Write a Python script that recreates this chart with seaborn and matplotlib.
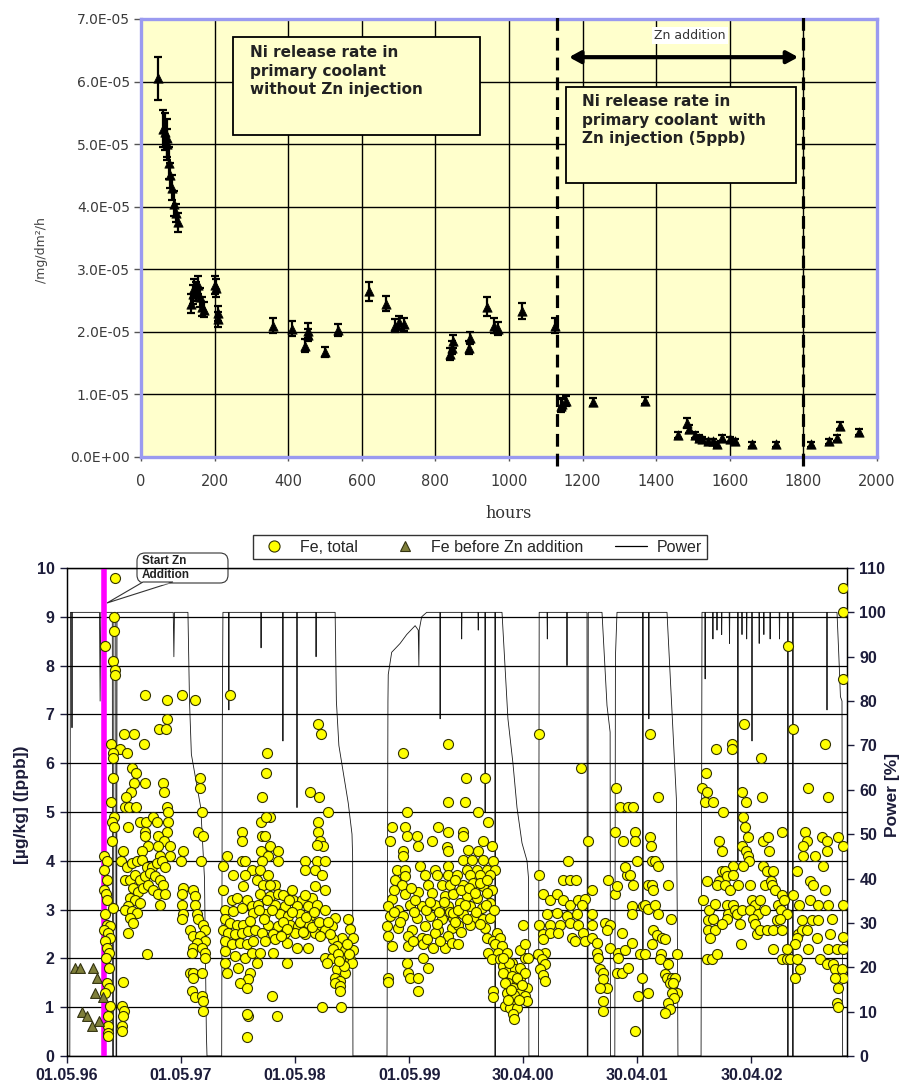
import numpy as np
import pandas as pd
import matplotlib
matplotlib.use("Agg")
import matplotlib.pyplot as plt
import seaborn as sns
from matplotlib.patches import Rectangle, FancyBboxPatch, Polygon
from matplotlib.lines import Line2D
from matplotlib.ticker import FuncFormatter, MultipleLocator
from matplotlib.transforms import IdentityTransform

# ---------------- top chart data (Ni release rate, x1e-5 mg/dm2/h) ----------------
hours = [45, 60, 65, 70, 72, 75, 80, 85, 90, 95, 100,
         135, 140, 145, 150, 155, 160, 165, 170, 200, 205, 208, 210,
         360, 410, 445, 455, 455, 500, 535, 620, 665, 690, 700, 715,
         840, 845, 848, 890, 895, 940, 960, 970, 1035, 1125,
         1140, 1145, 1155, 1228, 1370,
         1460, 1485, 1490, 1505, 1515, 1525, 1540, 1555, 1565, 1580, 1600, 1615,
         1660, 1725, 1820, 1870, 1890, 1900, 1950]
ni_rate = [6.05, 5.25, 5.2, 5.1, 5.0, 4.7, 4.5, 4.3, 4.05, 3.9, 3.75,
           2.45, 2.6, 2.7, 2.65, 2.75, 2.55, 2.4, 2.35, 2.75, 2.7, 2.3, 2.2,
           2.1, 2.05, 1.78, 1.95, 2.02, 1.68, 2.03, 2.65, 2.45, 2.1, 2.15, 2.12,
           1.65, 1.75, 1.85, 1.75, 1.9, 2.4, 2.1, 2.05, 2.33, 2.1,
           0.82, 0.85, 0.9, 0.88, 0.9,
           0.35, 0.55, 0.45, 0.35, 0.3, 0.28, 0.25, 0.25, 0.2, 0.3, 0.28, 0.25,
           0.2, 0.2, 0.2, 0.25, 0.3, 0.5, 0.4]
ni_err = [0.35, 0.3, 0.3, 0.3, 0.25, 0.25, 0.2, 0.2, 0.2, 0.15, 0.15,
          0.15, 0.15, 0.15, 0.15, 0.15, 0.15, 0.15, 0.12, 0.15, 0.15, 0.12, 0.12,
          0.12, 0.12, 0.1, 0.1, 0.12, 0.08, 0.1, 0.15, 0.12, 0.1, 0.1, 0.1,
          0.1, 0.1, 0.1, 0.1, 0.1, 0.15, 0.12, 0.1, 0.13, 0.12,
          0.1, 0.1, 0.08, 0.06, 0.06,
          0.05, 0.08, 0.06, 0.05, 0.05, 0.04, 0.04, 0.04, 0.04, 0.05, 0.04, 0.04,
          0.04, 0.04, 0.04, 0.04, 0.05, 0.06, 0.05]
zn_start_h = 1130
zn_end_h = 1800
top_xticks = [0, 200, 400, 600, 800, 1000, 1200, 1400, 1600, 1800, 2000]

# ---------------- bottom chart data ----------------
start_date = "01.05.96"
date_tick_labels = ["01.05.96", "01.05.97", "01.05.98", "01.05.99", "30.04.00", "30.04.01", "30.04.02"]
zn_start_day = 119  # days after 01.05.96

# Fe before Zn addition (day, ppb)
fe_before = [(26, 1.8), (43, 1.8), (84, 1.8), (97, 1.6), (90, 1.3), (114, 1.2),
             (47, 0.9), (63, 0.82), (79, 0.62), (103, 0.72)]

# Fe, total (day, ppb)
fe_total = [
    (154, 9.8), (151, 9.0), (150, 8.7), (122, 8.4), (148, 8.1), (153, 7.9), (154, 7.8),
    (251, 7.4), (319, 7.3), (368, 7.4), (410, 7.3), (520, 7.4), (321, 6.9), (294, 6.7), (317, 6.7),
    (182, 6.6), (214, 6.6), (246, 6.4), (141, 6.4), (168, 6.3), (146, 6.2), (148, 6.1), (193, 6.2),
    (207, 5.9), (221, 5.8), (148, 5.7), (249, 5.6), (308, 5.6), (214, 5.6), (310, 5.4), (205, 5.4),
    (189, 5.3), (141, 5.2), (186, 5.1), (199, 5.1), (221, 5.1), (321, 5.1), (324, 5.0), (426, 5.7),
    (426, 5.5), (431, 5.0),
    (151, 4.9), (143, 4.8), (151, 4.7), (196, 4.7), (234, 4.8), (253, 4.8), (276, 4.9), (287, 4.8),
    (324, 4.8), (319, 4.6), (250, 4.6), (420, 4.6), (434, 4.5), (143, 4.4), (250, 4.5), (292, 4.5),
    (310, 4.4), (260, 4.3), (290, 4.3), (328, 4.3), (372, 4.2), (180, 4.2), (239, 4.2), (119, 4.1),
    (127, 4.0), (172, 4.0), (298, 4.1), (330, 4.1), (365, 4.0), (428, 4.0),
    (191, 3.88), (207, 3.95), (223, 3.99), (239, 4.02), (255, 3.88), (271, 3.88), (287, 3.95),
    (303, 3.99), (314, 3.88), (186, 3.61), (202, 3.61), (218, 3.71), (234, 3.61), (250, 3.68),
    (266, 3.75), (282, 3.68), (298, 3.61), (308, 3.51), (212, 3.44), (228, 3.37), (244, 3.44),
    (260, 3.51), (276, 3.41), (292, 3.31), (314, 3.31), (202, 3.24), (218, 3.2), (234, 3.14),
    (196, 3.07), (186, 3.0), (207, 2.97), (223, 2.93), (298, 3.1), (202, 2.83), (212, 2.73),
    (196, 2.52), (255, 2.1),
    (119, 3.82), (127, 3.61), (119, 3.41), (125, 3.31), (127, 3.2), (122, 2.9), (127, 2.69),
    (138, 2.66), (119, 2.59), (132, 2.52), (138, 2.42), (122, 2.35), (127, 2.22), (135, 2.12),
    (125, 2.01), (135, 1.81), (146, 3.03), (127, 1.5), (135, 1.4), (122, 1.3), (138, 1.03),
    (132, 0.82), (132, 0.62), (132, 0.48), (132, 0.41), (178, 1.52), (177, 1.03), (182, 0.93),
    (180, 0.82), (175, 0.62), (175, 0.52),
    (372, 3.44), (367, 3.31), (402, 3.41), (410, 3.27), (410, 3.1), (367, 3.1), (372, 2.9),
    (367, 2.8), (415, 2.9), (420, 2.8), (436, 2.69), (394, 2.59), (442, 2.59), (404, 2.46),
    (426, 2.46), (442, 2.35), (415, 2.32), (402, 2.22), (431, 2.22), (442, 2.12), (399, 2.12),
    (442, 2.01), (394, 1.71), (404, 1.71), (431, 1.71), (404, 1.6), (399, 1.33), (410, 1.2),
    (431, 1.23), (436, 1.13), (434, 0.92),
    (511, 4.1), (500, 3.9), (532, 3.71), (500, 3.41), (559, 4.6), (559, 4.4), (559, 4.0),
    (570, 4.0), (591, 3.82), (570, 3.71), (564, 3.48), (527, 3.2), (543, 3.24), (575, 3.2),
    (591, 3.07), (506, 3.0), (532, 2.97), (559, 3.03), (596, 2.93), (506, 2.8), (522, 2.73),
    (543, 2.69), (564, 2.69), (586, 2.76), (500, 2.59), (516, 2.52), (538, 2.49), (559, 2.52),
    (580, 2.56), (602, 2.59), (506, 2.35), (527, 2.29), (554, 2.32), (575, 2.29), (596, 2.35),
    (506, 2.15), (538, 2.05), (570, 2.01), (591, 2.12), (506, 1.91), (511, 1.71), (548, 1.81),
    (586, 1.71), (580, 1.57), (554, 1.5), (575, 1.4), (580, 0.82), (575, 0.86), (575, 0.38),
    (804, 6.8), (812, 6.6), (639, 6.2), (636, 5.8), (623, 5.3), (778, 5.4), (807, 5.3), (836, 5.0),
    (620, 4.8), (650, 4.9), (637, 4.9), (804, 4.8), (804, 4.6), (810, 4.4), (820, 4.3), (799, 4.33),
    (623, 4.5), (634, 4.5), (621, 4.2), (650, 4.3), (676, 4.2), (644, 4.1), (623, 4.0), (676, 4.0),
    (762, 4.0), (799, 4.0), (826, 4.0), (762, 3.82), (794, 3.82), (815, 3.71), (618, 3.82),
    (644, 3.71), (607, 3.61), (628, 3.51), (666, 3.51), (719, 3.41), (794, 3.48), (826, 3.41),
    (618, 3.31), (650, 3.27), (676, 3.31), (724, 3.2), (751, 3.2), (783, 3.24), (612, 3.1),
    (666, 3.1), (698, 3.07), (735, 3.07), (772, 3.07), (799, 3.1), (826, 3.0), (634, 2.9),
    (682, 2.9), (708, 2.87), (746, 2.9), (778, 2.87), (858, 2.83), (898, 2.81), (644, 2.69),
    (676, 2.66), (714, 2.69), (740, 2.66), (772, 2.73), (815, 2.63), (847, 2.66), (906, 2.61),
    (623, 2.52), (660, 2.49), (698, 2.52), (730, 2.52), (762, 2.49), (794, 2.52), (826, 2.59),
    (879, 2.42), (916, 2.42), (634, 2.35), (666, 2.39), (703, 2.32), (735, 2.22), (772, 2.22),
    (852, 2.39), (863, 2.25), (890, 2.18), (916, 2.18), (618, 2.12), (660, 2.12), (826, 2.01),
    (847, 2.01), (879, 2.01), (906, 1.98), (607, 1.91), (703, 1.91), (831, 1.91), (911, 1.91),
    (863, 1.78), (890, 1.71), (858, 1.6), (874, 1.54), (858, 1.5), (874, 1.44), (874, 1.33),
    (655, 1.22), (671, 0.81), (815, 1.01), (877, 1.01),
    (615, 3.0), (630, 2.8), (640, 3.2), (655, 3.0), (690, 2.75), (705, 2.6), (720, 2.95),
    (745, 2.75), (755, 2.55), (765, 2.85), (785, 2.65), (790, 2.95), (805, 2.75), (810, 2.45),
    (835, 2.75), (840, 2.5), (850, 2.2), (868, 2.1), (885, 1.85), (895, 2.3), (902, 2.1),
    (870, 1.95), (650, 3.5), (690, 3.3), (710, 3.2), (760, 3.3), (685, 2.45),
    (1076, 6.2), (1220, 6.4), (1220, 5.2), (1087, 5.0), (1039, 4.7), (1082, 4.7), (1034, 4.41),
    (1087, 4.5), (1119, 4.5), (1124, 4.31), (1076, 4.2), (1076, 4.1), (1188, 4.7), (1218, 4.6),
    (1169, 4.41), (1215, 4.29), (1220, 4.2), (1055, 3.82), (1082, 3.82), (1130, 3.9), (1178, 3.82),
    (1220, 3.9), (1050, 3.61), (1082, 3.68), (1146, 3.71), (1183, 3.71), (1220, 3.71), (1071, 3.51),
    (1156, 3.51), (1199, 3.51), (1039, 3.22), (1082, 3.31), (1124, 3.37), (1167, 3.34), (1210, 3.27),
    (1236, 3.34), (1028, 3.07), (1060, 3.0), (1098, 3.1), (1135, 3.07), (1178, 3.1), (1220, 3.07),
    (1034, 2.87), (1076, 2.87), (1119, 2.83), (1162, 2.87), (1199, 2.8), (1236, 2.83), (1023, 2.66),
    (1060, 2.63), (1103, 2.59), (1146, 2.66), (1188, 2.59), (1231, 2.63), (1028, 2.46), (1092, 2.46),
    (1135, 2.42), (1178, 2.52), (1220, 2.46), (1039, 2.25), (1092, 2.25), (1140, 2.29), (1172, 2.22),
    (1210, 2.22), (1231, 2.32), (1087, 1.91), (1140, 2.01), (1156, 1.81), (1092, 1.71), (1098, 1.6),
    (1124, 1.6), (1124, 1.33), (1028, 1.6), (1026, 1.52),
    (1045, 2.95), (1065, 2.75), (1110, 2.95), (1150, 3.0), (1190, 2.95), (1205, 3.15), (1115, 3.2),
    (1160, 3.15), (1045, 3.4), (1100, 3.45), (1185, 2.7), (1225, 2.95), (1108, 2.35), (1152, 2.4),
    (1195, 2.35),
    (1510, 6.6), (1645, 5.9), (1277, 5.7), (1338, 5.7), (1274, 5.2), (1316, 5.0), (1348, 4.8),
    (1756, 5.5), (1770, 5.1), (1796, 5.1), (1812, 5.1), (1268, 4.6), (1268, 4.5), (1332, 4.41),
    (1359, 4.31), (1754, 4.6), (1780, 4.41), (1818, 4.6), (1818, 4.41), (1668, 4.41),
    (1284, 4.22), (1316, 4.2), (1268, 4.02), (1295, 4.02), (1332, 4.02), (1364, 4.0), (1279, 3.82),
    (1311, 3.82), (1343, 3.82), (1370, 3.82), (1247, 3.71), (1290, 3.71), (1322, 3.71), (1354, 3.71),
    (1226, 3.51), (1268, 3.51), (1300, 3.54), (1332, 3.48), (1359, 3.41), (1236, 3.31), (1279, 3.27),
    (1311, 3.24), (1343, 3.34), (1258, 3.14), (1290, 3.07), (1327, 3.03), (1354, 3.14), (1236, 2.93),
    (1268, 2.9), (1300, 2.83), (1332, 2.8), (1354, 2.83), (1252, 2.69), (1290, 2.69), (1337, 2.63),
    (1252, 2.29), (1343, 2.42), (1375, 2.52), (1364, 2.35),
    (1240, 3.6), (1260, 3.4), (1285, 3.45), (1305, 3.35), (1320, 3.55), (1345, 3.6), (1250, 3.0),
    (1275, 3.1), (1310, 2.95), (1340, 3.1), (1365, 3.0), (1262, 2.55), (1280, 2.8), (1320, 2.7),
    (1240, 2.75),
    (1386, 2.42), (1370, 2.29), (1391, 2.25), (1348, 2.12), (1380, 2.12), (1407, 2.12), (1359, 1.98),
    (1386, 1.98), (1423, 1.91), (1396, 1.84), (1412, 1.74), (1434, 1.78), (1450, 1.81), (1466, 2.01),
    (1476, 2.01), (1396, 1.71), (1423, 1.64), (1450, 1.6), (1466, 1.71), (1412, 1.5), (1439, 1.47),
    (1471, 1.4), (1428, 1.4), (1407, 1.3), (1450, 1.3), (1423, 1.2), (1466, 1.23), (1471, 1.13),
    (1434, 1.09), (1402, 1.03), (1418, 0.99), (1439, 0.99), (1428, 0.86), (1431, 0.76), (1362, 1.33),
    (1364, 1.21), (1450, 2.18), (1466, 2.29), (1460, 2.69),
    (1400, 1.5), (1415, 1.9), (1440, 1.6), (1455, 1.45), (1430, 1.25), (1410, 1.15), (1445, 1.15),
    (1395, 2.0), (1420, 1.35),
    (1511, 3.71), (1511, 2.69), (1524, 3.31), (1546, 3.2), (1567, 3.31), (1588, 3.61), (1610, 3.61),
    (1629, 3.61), (1604, 4.0), (1588, 3.2), (1610, 3.1), (1636, 3.2), (1657, 3.22), (1535, 2.9),
    (1567, 2.93), (1599, 2.87), (1631, 2.9), (1647, 3.1), (1679, 3.41), (1546, 2.69), (1578, 2.69),
    (1610, 2.73), (1636, 2.69), (1679, 2.9), (1679, 2.69), (1524, 2.49), (1546, 2.52), (1572, 2.52),
    (1615, 2.42), (1652, 2.52), (1658, 2.35), (1679, 2.42), (1524, 2.39), (1530, 2.12), (1508, 2.08),
    (1519, 1.98), (1530, 1.88), (1514, 1.78), (1524, 1.67), (1530, 1.54), (1626, 2.35), (1695, 2.32),
    (1695, 2.12), (1700, 2.01), (1706, 1.78), (1716, 1.71), (1716, 1.57), (1727, 1.4), (1706, 1.4),
    (1714, 1.13), (1714, 0.92), (1722, 2.73), (1738, 2.69), (1727, 2.59), (1736, 2.22), (1732, 3.61),
    (1754, 3.31), (1759, 3.48), (1764, 2.12), (1764, 2.01), (1759, 1.71), (1775, 1.71), (1775, 2.52),
    (1791, 3.71), (1785, 3.88), (1812, 3.51), (1807, 3.07), (1807, 2.9), (1785, 2.18), (1796, 1.81),
    (1807, 2.32), (1818, 0.52), (1801, 3.71), (1823, 4.0), (1844, 3.07), (1834, 2.08), (1839, 1.6),
    (1828, 1.22),
    (2484, 9.6), (2484, 9.1), (2306, 8.4), (2484, 7.72), (1866, 6.6), (2167, 6.8), (2322, 6.7),
    (2426, 6.4), (2076, 6.3), (2127, 6.4), (2129, 6.3), (2221, 6.1), (2044, 5.8), (2033, 5.5),
    (2047, 5.4), (2042, 5.2), (2068, 5.2), (2100, 5.0), (1890, 5.3), (2159, 5.4), (2172, 5.2),
    (2225, 5.3), (2372, 5.5), (2436, 5.3),
    (2164, 4.9), (2168, 4.7), (2180, 4.49), (1866, 4.49), (1869, 4.3), (2086, 4.4), (2095, 4.2),
    (2228, 4.4), (2242, 4.49), (2246, 4.2), (2287, 4.6), (2362, 4.6), (2369, 4.4), (2356, 4.3),
    (2415, 4.49), (2431, 4.4), (2431, 4.2), (2468, 4.49), (2484, 4.3),
    (1871, 4.0), (1882, 4.0), (1892, 3.9), (2161, 4.3), (2172, 4.2), (2178, 4.1), (2182, 4.0),
    (2164, 3.9), (2132, 3.9), (2095, 3.8), (2106, 3.8), (2228, 3.9), (2239, 3.8), (2260, 3.8),
    (2335, 3.8), (2354, 4.1), (2394, 4.1), (2420, 3.9),
    (1860, 3.5), (1873, 3.5), (1876, 3.4), (1924, 3.5), (2047, 3.59), (2086, 3.59), (2111, 3.69),
    (2132, 3.7), (2079, 3.5), (2106, 3.5), (2122, 3.4), (2146, 3.5), (2186, 3.5), (2234, 3.5),
    (2253, 3.59), (2255, 3.5), (2266, 3.4), (2287, 3.3), (2324, 3.3), (2378, 3.59), (2388, 3.5),
    (2424, 3.4),
    (1850, 3.09), (1860, 3.02), (1882, 3.09), (1892, 2.92), (1933, 2.8), (2036, 3.19), (2054, 2.99),
    (2074, 3.12), (2111, 3.09), (2132, 3.09), (2116, 2.92), (2138, 2.99), (2143, 2.92), (2159, 2.99),
    (2191, 3.19), (2202, 3.09), (2218, 3.19), (2186, 2.99), (2212, 2.92), (2234, 2.99), (2276, 3.09),
    (2285, 2.99), (2295, 3.19), (2303, 2.92), (2342, 3.09), (2378, 3.19), (2404, 3.09), (2436, 3.09),
    (2484, 3.09),
    (2052, 2.78), (2068, 2.8), (2111, 2.8), (2154, 2.7), (2196, 2.8), (2202, 2.7), (2271, 2.78),
    (2282, 2.8), (2351, 2.78), (2383, 2.78), (2404, 2.78), (2447, 2.8), (1876, 2.59), (1887, 2.48),
    (1903, 2.41), (1914, 2.39), (1871, 2.3),
    (2052, 2.59), (2074, 2.59), (2097, 2.7), (2059, 2.41), (2157, 2.3), (2207, 2.51), (2218, 2.59),
    (2239, 2.59), (2260, 2.59), (2289, 2.59), (2340, 2.51), (2351, 2.59), (2367, 2.59), (2335, 2.41),
    (2330, 2.3), (2399, 2.41), (2442, 2.51), (2484, 2.44),
    (1850, 2.1), (1901, 2.1), (1898, 1.99), (1922, 1.89), (1951, 2.1), (2047, 1.99), (2063, 1.99),
    (2079, 2.1), (2260, 2.2), (2303, 2.2), (2287, 1.99), (2303, 1.99), (2314, 1.99), (2335, 1.99),
    (2370, 2.2), (2410, 1.99), (2431, 1.89), (2436, 2.2), (2463, 2.2), (2484, 2.2), (2452, 1.89),
    (2458, 1.79), (2479, 1.79), (2484, 1.6), (2458, 1.6), (2468, 1.4), (2345, 1.79), (2330, 1.6),
    (1914, 1.69), (1919, 1.59), (1935, 1.59), (1946, 1.59), (1930, 1.49), (1940, 1.49), (1951, 1.3),
    (1935, 1.3), (1943, 1.18), (1860, 1.3), (1924, 1.09), (1930, 0.97), (1912, 0.88), (2463, 1.09),
    (2466, 1.0),
]

# Reactor power (day, %)
power = [
    (0, 0), (9, 0), (11, 100), (15, 100), (16, 74), (17, 100), (104, 100), (106, 80), (108, 100),
    (114, 100), (116, 78), (118, 100), (145, 100), (146, 0), (149, 0), (150, 100), (156, 100),
    (157, 0), (159, 0), (160, 100), (340, 100), (342, 90), (344, 100),
    (387, 100), (392, 80), (398, 68), (428, 56), (440, 40), (446, 5), (448, 0),
    (495, 0), (497, 75), (499, 100), (517, 100), (518, 78), (519, 100), (620, 100), (621, 92),
    (622, 100), (690, 100), (691, 71), (692, 100), (735, 100), (736, 56), (737, 100), (796, 100),
    (797, 90), (798, 100),
    (858, 100), (862, 80), (870, 70), (900, 57), (912, 50), (914, 45), (915, 0),
    (1024, 0), (1027, 80), (1028, 86), (1039, 91), (1066, 93), (1087, 95), (1114, 97), (1124, 96),
    (1126, 88), (1127, 96), (1135, 99), (1151, 100), (1193, 100), (1194, 76), (1195, 100),
    (1262, 100), (1263, 94), (1264, 100), (1315, 100), (1316, 96), (1317, 100), (1337, 100),
    (1338, 55), (1339, 100), (1369, 100), (1370, 0), (1371, 100),
    (1392, 100), (1411, 76), (1427, 66), (1440, 56), (1456, 48), (1472, 44), (1477, 40), (1478, 0),
    (1509, 0), (1511, 100), (1536, 100), (1537, 94), (1538, 100), (1599, 100), (1600, 88),
    (1601, 100), (1664, 100), (1665, 0), (1667, 0), (1668, 100),
    (1712, 100), (1728, 79), (1738, 73), (1739, 0), (1753, 0), (1755, 90), (1760, 100),
    (1842, 100), (1843, 0), (1844, 100), (1861, 100), (1862, 76), (1863, 100),
    (1920, 100), (1950, 58), (1953, 30), (1955, 0),
    (2029, 0), (2032, 100), (2041, 100), (2042, 85), (2043, 100), (2066, 100), (2067, 94),
    (2068, 100), (2079, 100), (2080, 96), (2081, 100), (2094, 100), (2095, 95), (2096, 100),
    (2119, 100), (2120, 93), (2121, 100), (2146, 100), (2147, 44), (2148, 100), (2159, 100),
    (2160, 95), (2161, 100), (2174, 100), (2175, 94), (2176, 100), (2191, 100), (2192, 71),
    (2193, 100), (2214, 100), (2215, 93), (2216, 100), (2229, 100), (2230, 95), (2231, 100),
    (2249, 100), (2250, 94), (2251, 100), (2279, 100), (2280, 94), (2281, 100),
    (2306, 100), (2307, 0), (2308, 100), (2322, 100), (2323, 0), (2324, 100), (2431, 100),
    (2432, 78), (2433, 100), (2464, 100), (2470, 90), (2475, 81), (2480, 80), (2482, 0), (2496, 0),
]

# ---------------- helpers ----------------
W, H = 907, 1084
def fx(px):
    return px / W
def fy(py):
    return 1 - py / H

sns.set_theme(style="white")
plt.rcParams["font.family"] = ["DejaVu Sans"]

fig = plt.figure(figsize=(W / 100, H / 100), dpi=100)
fig.patch.set_facecolor("white")

# ================= TOP CHART =================
ax1 = fig.add_axes([fx(141), fy(457), (877 - 141) / W, (457 - 19) / H])
ax1.set_facecolor("#FFFFCC")
y_top = np.array(ni_rate) * 1e-5
e_top = np.array(ni_err) * 1e-5
ax1.errorbar(hours, y_top, yerr=e_top, fmt="none", ecolor="black", elinewidth=1.6,
             capsize=3.2, capthick=1.6, zorder=4)
sns.scatterplot(x=hours, y=y_top, marker="^", color="black", edgecolor="black", s=45,
                ax=ax1, zorder=5, legend=False)
ax1.set_xlim(0, 2000)
ax1.set_ylim(0, 7e-5)
ax1.set_xticks(top_xticks)
ax1.yaxis.set_major_locator(MultipleLocator(1e-5))
ax1.yaxis.set_major_formatter(FuncFormatter(lambda v, p: "{:.1E}".format(v)))
ax1.set_axisbelow(True)
ax1.grid(True, color="black", lw=1.0)
for s in ax1.spines.values():
    s.set_color("#9a9af0")
    s.set_linewidth(2.4)
ax1.tick_params(axis="y", left=True, direction="out", length=5, width=1, color="#555555",
                labelsize=10, labelcolor="#3a3a3a", pad=3)
ax1.tick_params(axis="x", bottom=True, direction="out", length=3, width=1, color="#555555",
                labelsize=10.5, labelcolor="#3a3a3a", pad=9)
ax1.set_xlabel("hours", family="DejaVu Serif", fontsize=11.5, color="#333333", labelpad=12)
ax1.set_ylabel("")
fig.text(fx(42), fy(250), "/mg/dm\u00b2/h", rotation=90, ha="center", va="center",
         fontsize=9, color="#444444")

# dashed lines for Zn addition
for hx in (zn_start_h, zn_end_h):
    ax1.plot([hx, hx], [-0.15e-5, 7.08e-5], color="black", lw=2.3, ls=(0, (4, 2.2)),
             clip_on=False, zorder=6)

# boxes
ax1.add_patch(Rectangle((250, 5.14e-5), 671, 1.57e-5, facecolor="#FFFFCC", edgecolor="black",
                        lw=1.3, zorder=7))
ax1.text(296, 6.58e-5, "Ni release rate in\nprimary coolant\nwithout Zn injection",
         fontsize=11, fontweight="bold", color="#222222", va="top", ha="left",
         linespacing=1.3, zorder=8)
ax1.add_patch(Rectangle((1155, 4.38e-5), 625, 1.53e-5, facecolor="#FFFFCC", edgecolor="black",
                        lw=1.3, zorder=7))
ax1.text(1198, 5.8e-5, "Ni release rate in\nprimary coolant  with\nZn injection (5ppb)",
         fontsize=11, fontweight="bold", color="#222222", va="top", ha="left",
         linespacing=1.3, zorder=8)
ax1.annotate("", xy=(1163, 6.39e-5), xytext=(1786, 6.39e-5),
             arrowprops=dict(arrowstyle="<|-|>,head_length=0.55,head_width=0.3", lw=3,
                             color="black", shrinkA=0, shrinkB=0), zorder=8)
ax1.text(1492, 6.74e-5, "Zn addition", fontsize=9, color="#333333", ha="center", va="center",
         bbox=dict(facecolor="white", edgecolor="none", pad=1.5), zorder=8)

# ================= BOTTOM CHART =================
ax2 = fig.add_axes([fx(67), fy(1056), (847 - 67) / W, (1056 - 568) / H])
axp = ax2.twinx()
ax2.set_zorder(axp.get_zorder() + 1)
ax2.patch.set_visible(False)
axp.set_facecolor("white")

pw = pd.DataFrame(power, columns=["day", "pct"])
sns.lineplot(data=pw, x="day", y="pct", ax=axp, color="#1a1a1a", lw=0.6, estimator=None,
             sort=False, legend=False)

fe = pd.DataFrame(fe_total, columns=["day", "val"])
fb = pd.DataFrame(fe_before, columns=["day", "val"])
ax2.axvline(zn_start_day, color="#FF00FF", lw=4, zorder=2)
sns.scatterplot(data=fe, x="day", y="val", color="#FFFF00", edgecolor="#333300", linewidth=0.8,
                s=52, ax=ax2, zorder=3, legend=False)
sns.scatterplot(data=fb, x="day", y="val", marker="^", color="#7f7f3a", edgecolor="#333311",
                linewidth=0.8, s=50, ax=ax2, zorder=3, legend=False)

t0 = pd.to_datetime(start_date, format="%d.%m.%y")
tick_days = [(pd.to_datetime(l, format="%d.%m.%y") - t0).days for l in date_tick_labels]
xmax_day = 2496
for a in (ax2, axp):
    a.set_xlim(0, xmax_day)
ax2.set_ylim(0, 10)
axp.set_ylim(0, 110)
ax2.set_xticks(tick_days)
ax2.set_xticklabels(date_tick_labels)
ax2.set_yticks(range(0, 11))
axp.set_yticks(range(0, 111, 10))
ax2.set_axisbelow(True)
ax2.yaxis.grid(True, color="black", lw=0.9)
ax2.xaxis.grid(False)
axp.grid(False)
for a in (ax2, axp):
    for s in a.spines.values():
        s.set_color("black")
        s.set_linewidth(0.9)
lab_col = "#1c1c3a"
ax2.tick_params(axis="x", bottom=True, direction="out", length=5, width=1, pad=4, colors=lab_col)
ax2.tick_params(axis="y", left=True, direction="out", length=5, width=1, pad=4, colors=lab_col)
axp.tick_params(axis="y", right=True, direction="out", length=5, width=1, pad=4, colors=lab_col)
for lab in ax2.get_xticklabels() + ax2.get_yticklabels() + axp.get_yticklabels():
    lab.set_fontfamily("Liberation Sans")
    lab.set_fontweight("bold")
    lab.set_fontsize(11.5)
    lab.set_color(lab_col)
ax2.set_xlabel("")
ax2.set_ylabel("")
axp.set_xlabel("")
axp.set_ylabel("")
fig.text(fx(22), fy(805), "[\u00b5g/kg] ([ppb])", rotation=90, ha="center", va="center",
         family="Liberation Sans", fontweight="bold", fontsize=12.5, color=lab_col)
fig.text(fx(893), fy(795), "Power [%]", rotation=90, ha="center", va="center",
         family="Liberation Sans", fontweight="bold", fontsize=12.5, color=lab_col)

# legend
handles = [
    Line2D([], [], ls="none", marker="o", markersize=8, markerfacecolor="#FFFF00",
           markeredgecolor="#333300", markeredgewidth=0.8),
    Line2D([], [], ls="none", marker="^", markersize=7, markerfacecolor="#7f7f3a",
           markeredgecolor="#333311", markeredgewidth=0.8),
    Line2D([], [], color="black", lw=0.9),
]
leg = fig.legend(handles, ["Fe, total", "Fe before Zn addition", "Power"], loc="center",
                 bbox_to_anchor=(fx(480), fy(547)), ncol=3, frameon=True, fancybox=False,
                 edgecolor="black", prop=dict(family="Liberation Sans", size=11.5),
                 columnspacing=2.0, handlelength=2.0, handletextpad=0.6, borderpad=0.3,
                 borderaxespad=0)
leg.get_frame().set_linewidth(1.0)

# callout "Start Zn Addition"
idt = IdentityTransform()
ptr = Polygon([(143, H - 582), (173, H - 582), (107, H - 603)], closed=True, facecolor="white",
              edgecolor="#333333", lw=0.8, transform=idt)
box = FancyBboxPatch((137, H - 583), 91, 30, boxstyle="round,pad=0,rounding_size=8",
                     facecolor="white", edgecolor="#333333", lw=0.8, transform=idt)
fig.add_artist(box)
fig.add_artist(ptr)
fig.add_artist(Polygon([(144, H - 583.5), (172, H - 583.5), (150, H - 586)], closed=True,
                       facecolor="white", edgecolor="none", transform=idt))
fig.text(fx(142), fy(568), "Start Zn\nAddition", ha="left", va="center",
         family="Liberation Sans", fontweight="bold", fontsize=8.5, color="#222222",
         linespacing=1.15)

fig.savefig("out.png", dpi=100, facecolor="white")
